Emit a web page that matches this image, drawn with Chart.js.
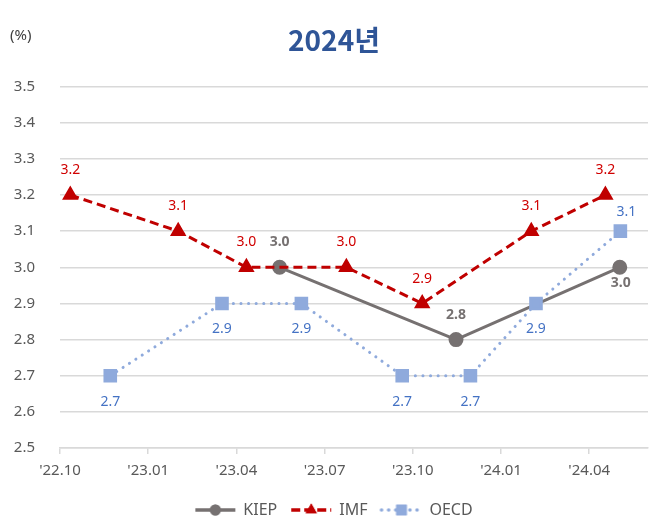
<!DOCTYPE html>
<html>
<head>
<meta charset="utf-8">
<script src="https://cdn.jsdelivr.net/npm/chart.js@4.4.1/dist/chart.umd.min.js"></script>
<style>
  html, body { margin: 0; padding: 0; background: #fff; }
  canvas { display: block; }
</style>
</head>
<body>
<canvas id="chart" width="668" height="522"></canvas>
<script>
// months counted from Oct 2022 (0 = '22.10)
const tickMonths = [0, 3, 6, 9, 12, 15, 18];
const tickLabels = ["'22.10", "'23.01", "'23.04", "'23.07", "'23.10", "'24.01", "'24.04"];

const kiepMonths = [7.47, 13.47, 19.04];
const kiepValues = [3.0, 2.8, 3.0];

const imfMonths = [0.35, 4.02, 6.34, 9.74, 12.32, 16.03, 18.55];
const imfValues = [3.2, 3.1, 3.0, 3.0, 2.9, 3.1, 3.2];

const oecdMonths = [1.71, 5.51, 8.21, 11.64, 13.96, 16.19, 19.06];
const oecdValues = [2.7, 2.9, 2.9, 2.7, 2.7, 2.9, 3.1];

const FONT = "'Noto Sans', 'Open Sans', sans-serif";
const GRID = "#d9d9d9";
const TEXT = "#595959";

function toPoints(xs, ys) {
  return xs.map((x, i) => ({ x: x, y: ys[i] }));
}

// small line + marker picture for the legend
function legendIcon(color, width, dash, cap, style, radius) {
  const c = document.createElement("canvas");
  c.width = 48;
  c.height = 16;
  const ctx = c.getContext("2d");
  ctx.strokeStyle = color;
  ctx.lineWidth = width;
  ctx.lineCap = cap;
  ctx.setLineDash(dash);
  ctx.beginPath();
  ctx.moveTo(4, 8);
  ctx.lineTo(44, 8);
  ctx.stroke();
  ctx.setLineDash([]);
  ctx.fillStyle = color;
  Chart.helpers.drawPoint(ctx, { pointStyle: style, radius: radius, borderWidth: 0, rotation: 0 }, 24, 8);
  ctx.fill();
  return c;
}

const valueLabels = {
  id: "valueLabels",
  afterDatasetsDraw(chart) {
    const ctx = chart.ctx;
    chart.data.datasets.forEach((ds, i) => {
      const meta = chart.getDatasetMeta(i);
      ctx.save();
      ctx.font = (ds.labelBold ? "bold " : "") + "14px " + FONT;
      ctx.fillStyle = ds.labelColor;
      ctx.textAlign = "center";
      ctx.textBaseline = "middle";
      meta.data.forEach((pt, j) => {
        const v = ds.data[j].y.toFixed(1);
        ctx.fillText(v, pt.x + (ds.labelDx[j] || 0), pt.y + ds.labelDy[j]);
      });
      ctx.restore();
    });
    // unit note
    ctx.save();
    ctx.font = "15px " + FONT;
    ctx.fillStyle = "#404040";
    ctx.textAlign = "left";
    ctx.textBaseline = "middle";
    ctx.fillText("(%)", 10, 36);
    ctx.restore();
  }
};

const datasets = [
  {
    label: "KIEP",
    data: toPoints(kiepMonths, kiepValues),
    borderColor: "#767171",
    backgroundColor: "#767171",
    borderWidth: 3,
    pointStyle: "circle",
    pointRadius: 6,
    pointHoverRadius: 6,
    icon: legendIcon("#767171", 3.5, [], "butt", "circle", 5.5),
    labelColor: "#767171",
    labelBold: true,
    labelDy: [-25, -25, 16],
    labelDx: [0, 0, 1],
    order: 2
  },
  {
    label: "IMF",
    data: toPoints(imfMonths, imfValues),
    borderColor: "#c00000",
    backgroundColor: "#c00000",
    borderWidth: 3,
    borderDash: [9, 5],
    pointStyle: "triangle",
    pointRadius: 6.5,
    pointHoverRadius: 6.5,
    icon: legendIcon("#c00000", 3.5, [9, 4], "butt", "triangle", 6.5),
    labelColor: "#d00000",
    labelBold: false,
    labelDy: [-25, -25, -25, -25, -24, -25, -25],
    labelDx: [0, 0, 0, 0, 0, 0, 0],
    order: 1
  },
  {
    label: "OECD",
    data: toPoints(oecdMonths, oecdValues),
    borderColor: "#8faadc",
    backgroundColor: "#8faadc",
    borderWidth: 3,
    borderDash: [0.1, 7.5],
    borderCapStyle: "round",
    pointStyle: "rect",
    pointRadius: 7.5,
    pointHoverRadius: 7.5,
    icon: legendIcon("#8faadc", 3.5, [0.1, 7], "round", "rect", 7.5),
    labelColor: "#4472c4",
    labelBold: false,
    labelDy: [26, 26, 26, 26, 26, 26, -19],
    labelDx: [0, 0, 0, 0, 0, 0, 6],
    order: 0
  }
];

new Chart(document.getElementById("chart"), {
  type: "line",
  data: { datasets: datasets },
  options: {
    responsive: false,
    animation: false,
    layout: { padding: { left: 0, right: 0, top: 0, bottom: -6 } },
    plugins: {
      title: {
        display: true,
        text: "2024년",
        color: "#2f5597",
        font: { family: "'Noto Sans CJK KR', 'Noto Sans', sans-serif", size: 28, weight: "bold" },
        padding: { top: 24, bottom: 29 }
      },
      legend: {
        position: "bottom",
        labels: {
          usePointStyle: true,
          pointStyleWidth: 40,
          padding: 14,
          color: TEXT,
          font: { family: FONT, size: 16 },
          generateLabels(chart) {
            return chart.data.datasets.map((ds, i) => ({
              text: ds.label,
              pointStyle: ds.icon,
              fontColor: TEXT,
              lineWidth: 0,
              datasetIndex: i
            }));
          }
        }
      },
      tooltip: { enabled: false }
    },
    scales: {
      x: {
        type: "linear",
        min: 0,
        max: 20,
        afterBuildTicks(scale) {
          scale.ticks = tickMonths.map(v => ({ value: v }));
        },
        ticks: {
          color: TEXT,
          font: { family: FONT, size: 15 },
          padding: 8,
          maxRotation: 0,
          callback(value) {
            const k = tickMonths.indexOf(value);
            return k >= 0 ? tickLabels[k] : "";
          }
        },
        grid: { drawOnChartArea: false, drawTicks: true, tickLength: 6, color: GRID, lineWidth: 1.5 },
        border: { color: GRID, width: 1.5 }
      },
      y: {
        min: 2.5,
        max: 3.5,
        afterFit(scale) { scale.width = 60; },
        ticks: {
          stepSize: 0.1,
          color: TEXT,
          font: { family: FONT, size: 15 },
          padding: 25,
          callback(value) { return value.toFixed(1); }
        },
        grid: { color: GRID, lineWidth: 1.5, drawTicks: false },
        border: { display: false }
      },
      // empty right margin, keeps title and legend centred on the canvas
      yRight: {
        position: "right",
        min: 0,
        max: 1,
        afterFit(scale) { scale.width = 20; },
        ticks: { display: false },
        grid: { display: false },
        border: { display: false }
      }
    }
  },
  plugins: [valueLabels]
});
</script>
</body>
</html>
